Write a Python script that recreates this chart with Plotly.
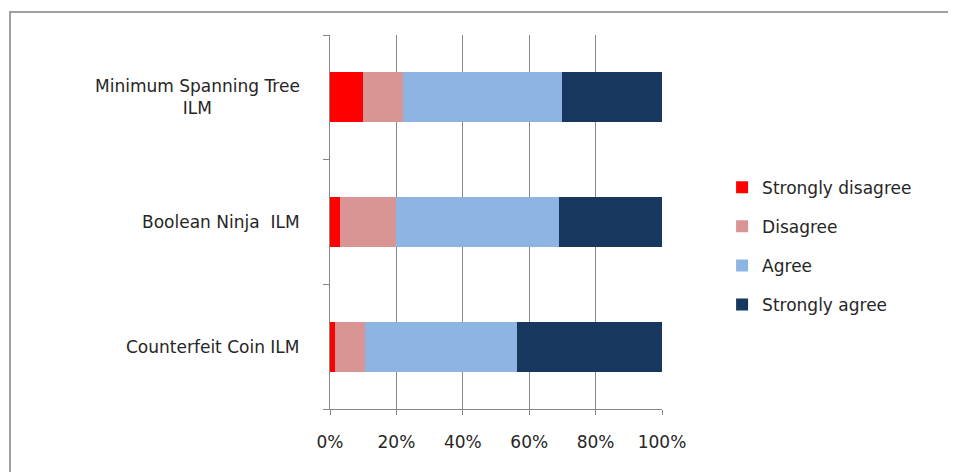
import plotly.graph_objects as go

categories = ["Minimum Spanning Tree<br>ILM", "Boolean Ninja  ILM", "Counterfeit Coin ILM"]
series_names = ["Strongly disagree", "Disagree", "Agree", "Strongly agree"]
strongly_disagree = [10, 3, 1.4]
disagree = [12, 17, 9]
agree = [48, 49, 46]
strongly_agree = [30, 31, 43.6]
colors = ["#FF0000", "#D99594", "#8EB4E3", "#17375E"]
x_ticks = [0, 0.2, 0.4, 0.6, 0.8, 1.0]
x_tick_labels = ["0%", "20%", "40%", "60%", "80%", "100%"]

values = [strongly_disagree, disagree, agree, strongly_agree]
totals = [sum(v[i] for v in values) for i in range(len(categories))]

FONT = "DejaVu Sans"
FS = 17
TXT = "#262626"
fig = go.Figure()
for name, vals, col in zip(series_names, values, colors):
    fig.add_trace(go.Bar(
        y=categories, x=[v / t for v, t in zip(vals, totals)], name=name,
        orientation="h", marker=dict(color=col, line=dict(width=0)),
        legendgroup=name,
    ))

# page has an 8px body margin, so figure is sized/positioned to compensate
W, H = 948, 464
L, R, T, B = 322, 294, 27, 63
PW, PH = W - L - R, H - T - B

fig.update_layout(
    barmode="stack", bargap=0.6,
    width=W, height=H,
    margin=dict(l=L, r=R, t=T, b=B),
    paper_bgcolor="white", plot_bgcolor="white",
    font=dict(family=FONT, size=FS, color=TXT),
    showlegend=True,
    legend=dict(x=1.181, y=0.64, xanchor="left", yanchor="top",
                traceorder="grouped", tracegroupgap=14,
                font=dict(family=FONT, size=FS, color=TXT)),
    xaxis=dict(range=[0, 1], tickvals=x_ticks, ticktext=x_tick_labels,
               showgrid=True, gridcolor="#868686", gridwidth=1,
               showline=True, linecolor="#868686", linewidth=1,
               ticks="outside", ticklen=5, tickcolor="#868686",
               ticklabelstandoff=13, zeroline=False,
               tickfont=dict(family=FONT, size=FS, color=TXT)),
    yaxis=dict(categoryorder="array", categoryarray=categories[::-1],
               showline=True, linecolor="#868686", linewidth=1,
               ticks="outside", ticklen=6, tickcolor="#868686",
               tickson="boundaries", showticklabels=False, showgrid=False,
               zeroline=False),
)

for c in categories:
    fig.add_annotation(x=-28 / PW, xref="paper", y=c, yref="y", text=c,
                       showarrow=False, xanchor="right", yanchor="middle",
                       align="center",
                       font=dict(family=FONT, size=FS, color=TXT))

fig.add_shape(type="rect", xref="paper", yref="paper",
              x0=(2 - L) / PW, x1=3, y0=-1, y1=1 + (T - 4) / PH,
              line=dict(color="#A0A0A0", width=2), fillcolor="rgba(0,0,0,0)",
              layer="below")

fig.write_html("out.html")
